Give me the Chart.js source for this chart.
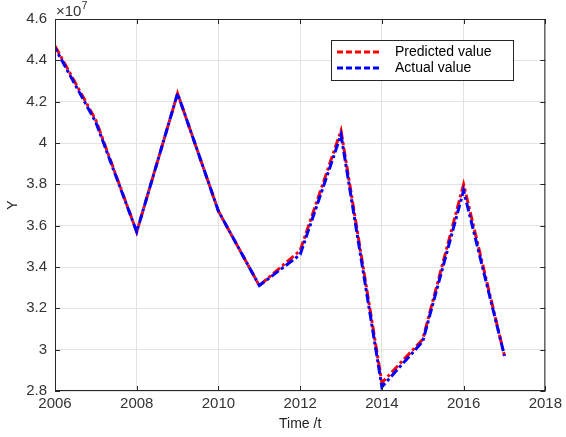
<!DOCTYPE html>
<html>
<head>
<meta charset="utf-8">
<script src="https://cdn.jsdelivr.net/npm/chart.js@4.4.0/dist/chart.umd.min.js"></script>
<style>
  html, body { margin: 0; padding: 0; background: #fff; }
  #wrap { width: 566px; height: 437px; }
</style>
</head>
<body>
<div id="wrap"><canvas id="chart" width="566" height="437"></canvas></div>
<script>
// values (units of 1e7 shown on axis)
const years = [2006, 2007, 2008, 2009, 2010, 2011, 2012, 2013, 2014, 2015, 2016, 2017];
const predicted = [4.47e7, 4.11e7, 3.57e7, 4.24e7, 3.67e7, 3.31e7, 3.48e7, 4.06e7, 2.84e7, 3.05e7, 3.80e7, 2.97e7];
const actual = [4.46e7, 4.10e7, 3.57e7, 4.24e7, 3.67e7, 3.31e7, 3.46e7, 4.04e7, 2.82e7, 3.04e7, 3.77e7, 2.97e7];
const seriesNames = ['Predicted value', 'Actual value'];

const axisColor = '#333333';
const fontFamily = '"Liberation Sans", Arial, sans-serif';

function toPoints(vals) {
    return years.map((yr, i) => ({ x: yr, y: vals[i] }));
}

// inward tick marks on all four sides plus the box, like MATLAB
const boxTicks = {
    id: 'boxTicks',
    afterDraw(chart) {
        const { ctx, chartArea: a, scales } = chart;
        ctx.save();
        ctx.strokeStyle = '#262626';
        ctx.lineWidth = 1;
        ctx.strokeRect(a.left + 0.5, a.top + 0.5, a.right - a.left - 1, a.bottom - a.top - 1);
        ctx.beginPath();
        scales.x.ticks.forEach(t => {
            const px = Math.round(scales.x.getPixelForValue(t.value)) + 0.5;
            ctx.moveTo(px, a.bottom); ctx.lineTo(px, a.bottom - 5);
            ctx.moveTo(px, a.top); ctx.lineTo(px, a.top + 5);
        });
        scales.y.ticks.forEach(t => {
            const py = Math.round(scales.y.getPixelForValue(t.value)) + 0.5;
            ctx.moveTo(a.left, py); ctx.lineTo(a.left + 5, py);
            ctx.moveTo(a.right, py); ctx.lineTo(a.right - 5, py);
        });
        ctx.stroke();

        // exponent label
        ctx.fillStyle = axisColor;
        ctx.textBaseline = 'alphabetic';
        ctx.font = '15px ' + fontFamily;
        ctx.fillText('\u00d710', a.left + 1, a.top - 3);
        const w = ctx.measureText('\u00d710').width;
        ctx.font = '11px ' + fontFamily;
        ctx.fillText('7', a.left + 1 + w, a.top - 10);
        ctx.restore();
    }
};

// legend box drawn inside the plot area
const insideLegend = {
    id: 'insideLegend',
    afterDraw(chart) {
        const { ctx } = chart;
        const x0 = 331, y0 = 40, w = 182, h = 40;
        ctx.save();
        ctx.fillStyle = '#fff';
        ctx.fillRect(x0, y0, w, h);
        ctx.strokeStyle = '#262626';
        ctx.lineWidth = 1;
        ctx.strokeRect(x0 + 0.5, y0 + 0.5, w, h);
        chart.data.datasets.forEach((ds, i) => {
            const cy = y0 + 12 + i * 16;
            ctx.strokeStyle = ds.borderColor;
            ctx.lineWidth = 3;
            ctx.setLineDash([6, 3]);
            ctx.beginPath();
            ctx.moveTo(x0 + 6, cy);
            ctx.lineTo(x0 + 50, cy);
            ctx.stroke();
            ctx.setLineDash([]);
            ctx.fillStyle = '#000';
            ctx.font = '14px ' + fontFamily;
            ctx.textBaseline = 'middle';
            ctx.fillText(ds.label, x0 + 64, cy);
        });
        ctx.restore();
    }
};

const ctx = document.getElementById('chart').getContext('2d');
new Chart(ctx, {
    type: 'line',
    data: {
        datasets: [{
            label: seriesNames[0],
            data: toPoints(predicted),
            borderColor: '#ff0000',
            borderWidth: 3,
            borderDash: [9, 3, 3, 3],
            pointRadius: 0,
            tension: 0,
            order: 2
        }, {
            label: seriesNames[1],
            data: toPoints(actual),
            borderColor: '#0000ff',
            borderWidth: 3,
            borderDash: [9, 3, 3, 3],
            borderDashOffset: 5,
            pointRadius: 0,
            tension: 0,
            order: 1
        }]
    },
    options: {
        responsive: false,
        animation: false,
        layout: { padding: { left: 0, right: 17, top: 19, bottom: 0 } },
        plugins: {
            legend: { display: false },
            tooltip: { enabled: false }
        },
        scales: {
            x: {
                type: 'linear',
                min: 2006,
                max: 2018,
                ticks: {
                    stepSize: 2,
                    color: axisColor,
                    font: { size: 15, family: fontFamily },
                    padding: 4,
                    maxRotation: 0,
                    callback: v => String(v)
                },
                grid: { color: '#e3e3e3', tickLength: 0, drawTicks: false },
                border: { display: false },
                title: {
                    display: true,
                    text: 'Time /t',
                    color: '#222',
                    font: { size: 14, family: fontFamily },
                    padding: { top: 2, bottom: 4 }
                },
                afterFit(scale) { scale.height = 46; }
            },
            y: {
                min: 2.8e7,
                max: 4.6e7,
                ticks: {
                    stepSize: 0.2e7,
                    color: axisColor,
                    font: { size: 15, family: fontFamily },
                    padding: 8,
                    callback: v => String(Math.round(v / 1e6) / 10)
                },
                grid: { color: '#e3e3e3', tickLength: 0, drawTicks: false },
                border: { display: false },
                title: {
                    display: true,
                    text: 'Y',
                    color: '#222',
                    font: { size: 14, family: fontFamily },
                    padding: { top: 5, bottom: 0 }
                },
                afterFit(scale) { scale.width = 55; }
            }
        }
    },
    plugins: [boxTicks, insideLegend]
});
</script>
</body>
</html>
